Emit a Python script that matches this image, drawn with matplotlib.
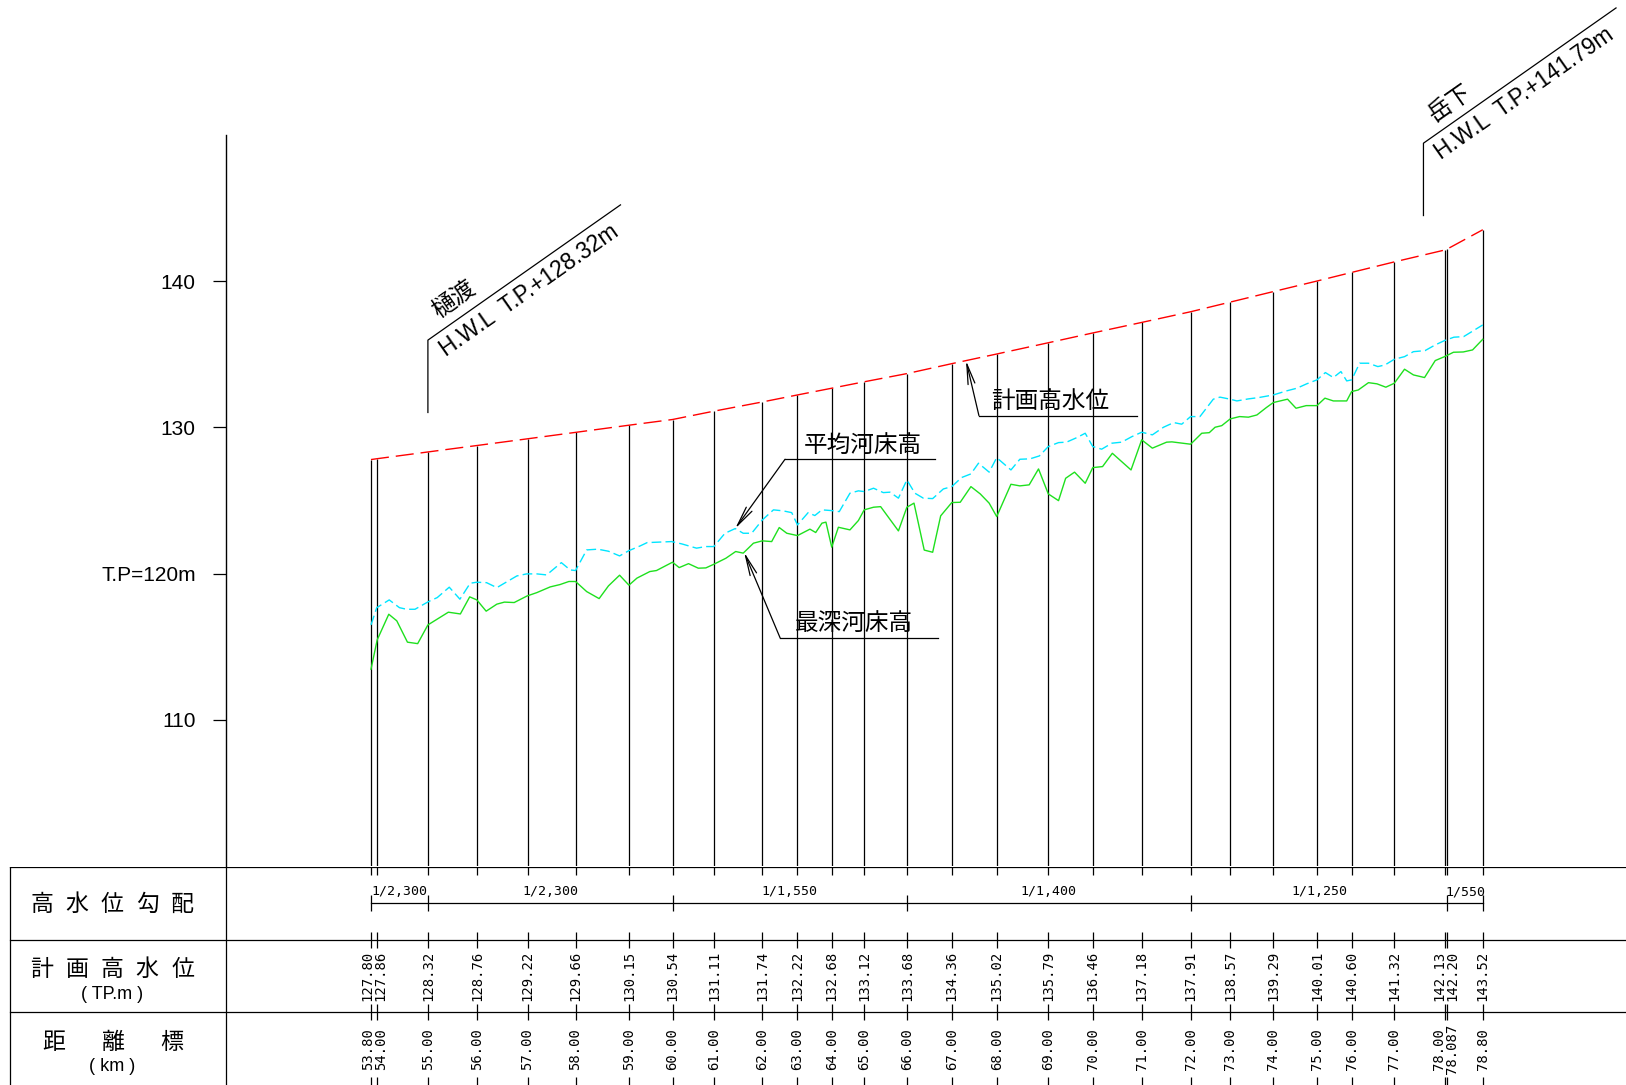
import numpy as np
import matplotlib.pyplot as plt

plt.rcParams['lines.scale_dashes'] = False

CJK = ['Noto Sans CJK JP', 'DejaVu Sans']
SANS = ['Liberation Sans', 'DejaVu Sans']
MONO = ['DejaVu Sans Mono']

# 距離標 (km)
km_labels = ["53.80", "54.00", "55.00", "56.00", "57.00", "58.00", "59.00", "60.00",
             "61.00", "62.00", "63.00", "64.00", "65.00", "66.00", "67.00", "68.00",
             "69.00", "70.00", "71.00", "72.00", "73.00", "74.00", "75.00", "76.00",
             "77.00", "78.00", "78.087", "78.80"]
# 図上の累加距離 (km)
dist = [53.80, 53.94, 55.08, 56.18, 57.32, 58.40, 59.60, 60.58,
        61.51, 62.60, 63.39, 64.16, 64.89, 65.85, 66.86, 67.87,
        69.03, 70.03, 71.13, 72.23, 73.12, 74.09, 75.07, 75.85,
        76.81, 77.94, 78.00, 78.80]
# 計画高水位 (T.P.m)
hwl = [127.80, 127.86, 128.32, 128.76, 129.22, 129.66, 130.15, 130.54,
       131.11, 131.74, 132.22, 132.68, 133.12, 133.68, 134.36, 135.02,
       135.79, 136.46, 137.18, 137.91, 138.57, 139.29, 140.01, 140.60,
       141.32, 142.13, 142.20, 143.52]

# 高水位勾配
grad_breaks = ["53.80", "55.00", "60.00", "66.00", "72.00", "78.087", "78.80"]
grad_labels = ["1/2,300", "1/2,300", "1/1,550", "1/1,400", "1/1,250", "1/550"]

# 最深河床高
deep_x = [53.80, 53.94, 54.20, 54.38, 54.62, 54.85, 55.08, 55.54, 55.81, 56.02,
          56.18, 56.39, 56.63, 56.80, 57.02, 57.31, 57.53, 57.83, 58.05, 58.25,
          58.40, 58.65, 58.93, 59.14, 59.39, 59.60, 59.78, 60.07, 60.22, 60.58,
          60.73, 60.94, 61.16, 61.33, 61.51, 61.78, 62.00, 62.17, 62.40, 62.60,
          62.81, 62.98, 63.15, 63.39, 63.67, 63.80, 63.94, 64.03, 64.16, 64.31,
          64.57, 64.76, 64.89, 65.10, 65.26, 65.66, 65.85, 66.01, 66.24, 66.43,
          66.61, 66.86, 67.05, 67.29, 67.50, 67.70, 67.87, 68.19, 68.39, 68.60,
          68.81, 69.03, 69.26, 69.42, 69.62, 69.86, 70.03, 70.25, 70.47, 70.89,
          71.13, 71.37, 71.69, 71.81, 72.23, 72.48, 72.65, 72.78, 72.93, 73.12,
          73.33, 73.53, 73.72, 73.93, 74.09, 74.41, 74.60, 74.83, 75.07, 75.25,
          75.44, 75.74, 75.85, 76.00, 76.23, 76.42, 76.62, 76.81, 77.04, 77.24,
          77.49, 77.73, 77.94, 78.14, 78.36, 78.57, 78.80]
deep_z = [113.46, 115.47, 117.22, 116.77, 115.31, 115.21, 116.49, 117.36, 117.24, 118.41,
          118.20, 117.43, 117.91, 118.05, 118.02, 118.47, 118.70, 119.09, 119.25, 119.46,
          119.46, 118.77, 118.29, 119.16, 119.89, 119.21, 119.69, 120.14, 120.21, 120.78,
          120.41, 120.68, 120.37, 120.39, 120.64, 121.05, 121.51, 121.40, 122.08, 122.24,
          122.19, 123.15, 122.76, 122.60, 123.04, 122.81, 123.45, 123.52, 121.81, 123.17,
          122.99, 123.63, 124.36, 124.54, 124.58, 122.92, 124.54, 124.82, 121.61, 121.46,
          123.95, 124.86, 124.88, 125.95, 125.45, 124.82, 123.90, 126.11, 126.00, 126.07,
          127.16, 125.45, 124.99, 126.52, 126.94, 126.18, 127.25, 127.32, 128.23, 127.09,
          129.15, 128.58, 128.99, 129.01, 128.85, 129.60, 129.64, 130.01, 130.12, 130.58,
          130.74, 130.70, 130.85, 131.35, 131.70, 131.93, 131.31, 131.49, 131.49, 132.00,
          131.81, 131.81, 132.45, 132.56, 133.06, 132.98, 132.75, 133.02, 133.98, 133.59,
          133.41, 134.57, 134.84, 135.14, 135.16, 135.30, 136.03]

# 平均河床高
mean_x = [53.80, 53.93, 54.21, 54.44, 54.60, 54.79, 55.09, 55.29, 55.56, 55.80,
          56.03, 56.18, 56.40, 56.63, 57.08, 57.30, 57.53, 57.75, 58.08, 58.28,
          58.40, 58.65, 58.90, 59.14, 59.39, 59.60, 59.85, 60.01, 60.56, 60.79,
          61.12, 61.33, 61.51, 61.76, 61.99, 62.17, 62.36, 62.60, 62.85, 63.07,
          63.26, 63.39, 63.63, 63.78, 63.94, 64.16, 64.33, 64.57, 64.76, 64.89,
          65.10, 65.32, 65.47, 65.66, 65.85, 66.03, 66.22, 66.43, 66.67, 66.86,
          67.08, 67.29, 67.46, 67.70, 67.87, 68.19, 68.39, 68.62, 68.83, 69.03,
          69.26, 69.44, 69.67, 69.86, 70.03, 70.23, 70.46, 70.68, 70.91, 71.13,
          71.37, 71.62, 71.85, 72.03, 72.23, 72.44, 72.74, 72.89, 73.12, 73.27,
          73.53, 73.76, 74.09, 74.39, 74.62, 74.84, 75.07, 75.26, 75.44, 75.61,
          75.74, 75.85, 76.03, 76.23, 76.44, 76.60, 76.81, 77.04, 77.24, 77.50,
          77.73, 77.94, 78.15, 78.37, 78.80]
mean_z = [116.49, 117.67, 118.20, 117.67, 117.56, 117.56, 118.08, 118.36, 119.07, 118.25,
          119.34, 119.41, 119.38, 119.04, 119.84, 119.98, 119.98, 119.91, 120.75, 120.25,
          120.21, 121.62, 121.67, 121.53, 121.21, 121.57, 121.89, 122.12, 122.19, 122.03,
          121.74, 121.85, 121.85, 122.76, 123.08, 122.76, 122.76, 123.67, 124.36, 124.29,
          124.17, 123.33, 124.17, 123.97, 124.36, 124.31, 124.24, 125.50, 125.66, 125.61,
          125.84, 125.54, 125.57, 125.16, 126.41, 125.50, 125.16, 125.13, 125.79, 125.95,
          126.57, 126.82, 127.55, 126.94, 127.93, 127.09, 127.82, 127.85, 128.05, 128.69,
          128.96, 128.99, 129.30, 129.60, 128.69, 128.51, 128.92, 128.99, 129.37, 129.67,
          129.49, 130.01, 130.33, 130.22, 130.74, 130.74, 131.93, 132.07, 131.93, 131.81,
          131.95, 132.04, 132.22, 132.50, 132.68, 132.98, 133.25, 133.75, 133.41, 133.82,
          133.18, 133.25, 134.39, 134.39, 134.16, 134.27, 134.66, 134.84, 135.18, 135.25,
          135.64, 135.94, 136.17, 136.21, 137.01]

# 地点名と H.W.L
sites = ["樋渡", "岳下"]
site_hwl = [128.32, 141.79]

# ---- 図の枠組み (px 単位で配置) ----
W, H = 1626, 1085
fig = plt.figure(figsize=(W / 100, H / 100), dpi=100)

X_LEFT, X_RIGHT = 50.54, 82.02
ax = fig.add_axes([226 / W, (H - 866) / H, 1 - 226 / W, 731 / H])
ax.set_xlim(X_LEFT, X_RIGHT)
ax.set_ylim(100, 150)
for s in ['top', 'right', 'bottom']:
    ax.spines[s].set_visible(False)
ax.spines['left'].set_linewidth(1.0)
ax.set_xticks([])
ax.set_yticks([110, 120, 130, 140])
ax.set_yticklabels(['110', 'T.P=120m', '130', '140'], family=SANS, fontsize=15)
ax.tick_params(axis='y', direction='out', length=9.7, width=0.9, pad=12)

# 距離標ごとの縦線
ax.vlines(dist, 100, hwl, colors='k', lw=0.9)

# 計画高水位・平均河床高・最深河床高
ax.plot(dist, hwl, color='#ff0000', lw=1.0, ls=(0, (13, 5)))
ax.plot(mean_x, mean_z, color='#00e5ff', lw=1.0, ls=(0, (7, 3)))
ax.plot(deep_x, deep_z, color='#1ee01e', lw=1.0)

# 引出線付きの凡例
notes = [
    ("平均河床高", mean_x, mean_z, 61.99, (63.11, 127.82), 66.48, (64.86, 128.75)),
    ("最深河床高", deep_x, deep_z, 62.19, (63.00, 115.60), 66.56, (64.65, 116.61)),
    ("計画高水位", dist, hwl, 67.18, (67.47, 130.81), 71.03, (69.08, 131.76)),
]
for text, sx, sz, tx, knee, x_end, txy in notes:
    tip = (tx, np.interp(tx, sx, sz))
    ax.plot([knee[0], x_end], [knee[1], knee[1]], color='k', lw=0.9)
    ax.annotate('', xy=tip, xytext=knee,
                arrowprops=dict(arrowstyle='->,head_length=1.45,head_width=0.25',
                                mutation_scale=10, color='k', lw=0.9,
                                shrinkA=0, shrinkB=0))
    ax.text(txy[0], txy[1], text, family=CJK, fontsize=17, ha='center', va='center')

# 地点の H.W.L 引出し
for name, h in zip(sites, site_hwl):
    x = np.interp(h, hwl, dist)
    y0 = h + 2.7
    y1 = y0 + 4.95
    x2, y2 = x + 4.33, y1 + 9.25
    ax.plot([x, x, x2], [y0, y1, y2], color='k', lw=0.9, clip_on=False)
    p0 = ax.transData.transform((x, y1))
    p1 = ax.transData.transform((x2, y2))
    ang = np.arctan2(p1[1] - p0[1], p1[0] - p0[0])
    u = np.array([np.cos(ang), np.sin(ang)])
    n = np.array([-np.sin(ang), np.cos(ang)])
    off_name = (45 * u + 17.5 * n) * 0.72
    off_hwl = (5 * u - 24 * n) * 0.72
    ax.annotate(name, (x, y1), xytext=off_name, textcoords='offset points',
                rotation=np.degrees(ang), rotation_mode='anchor',
                ha='center', va='center', family=CJK, fontsize=17,
                annotation_clip=False)
    ax.annotate(f"H.W.L  T.P.+{h:.2f}m", (x, y1), xytext=off_hwl,
                textcoords='offset points', rotation=np.degrees(ang),
                rotation_mode='anchor', ha='left', va='baseline',
                family=SANS, fontsize=16.5, annotation_clip=False)

# ---- 下段の表 ----
km_per_px = (X_RIGHT - X_LEFT) / (W - 226)
tab = fig.add_axes([0, 0, 1, 218 / H])
tab.set_xlim(X_LEFT - 226 * km_per_px, X_RIGHT)
tab.set_ylim(0, 3)
tab.axis('off')
frame = tab.get_yaxis_transform()
for y in (1, 2, 3):
    tab.plot([10.4 / W, 1], [y, y], color='k', lw=0.9, transform=frame)
for xf in (10.4 / W, 226 / W):
    tab.plot([xf, xf], [0, 3], color='k', lw=0.9, transform=frame)

# 見出し
head = [("高水位勾配", 2.49, 31, 193), ("計画高水位", 1.59, 31, 193), ("距離標", 0.59, 43.5, 182.5)]
for chars, y, left, right in head:
    cx = np.linspace(left + 10.5, right - 10.5, len(chars))
    for c, xp in zip(chars, cx):
        tab.text(xp / W, y, c, transform=frame, family=CJK, fontsize=16.5,
                 ha='center', va='center')
tab.text(112 / W, 1.245, "( TP.m )", transform=frame, family=SANS, fontsize=13,
         ha='center', va='center')
tab.text(112 / W, 0.25, "( km )", transform=frame, family=SANS, fontsize=13,
         ha='center', va='center')

# 距離標の目盛
tk = 0.11
tab.vlines(dist, 3 - tk, 3, colors='k', lw=0.9)
tab.vlines(dist, 2 - tk, 2 + tk, colors='k', lw=0.9)
tab.vlines(dist, 1 - tk, 1 + tk, colors='k', lw=0.9)
tab.vlines(dist, 0, tk, colors='k', lw=0.9)

# 近接する距離標の数値は左右にずらす
lab_x = np.array(dist, dtype=float)
gap = 13 * km_per_px
for i in range(len(lab_x) - 1):
    if dist[i + 1] - dist[i] < gap:
        mid = (dist[i] + dist[i + 1]) / 2
        lab_x[i], lab_x[i + 1] = mid - gap / 2, mid + gap / 2

for xl, v, k in zip(lab_x, hwl, km_labels):
    tab.text(xl, 1.5, f"{v:.2f}", rotation=90, family=MONO, fontsize=10,
             ha='center', va='center')
    tab.text(xl, 0.5, k, rotation=90, family=MONO, fontsize=10,
             ha='center', va='center')

# 勾配の寸法線
bx = [dist[km_labels.index(k)] for k in grad_breaks]
tab.plot([bx[0], bx[-1]], [2.5, 2.5], color='k', lw=0.9)
tab.vlines(bx, 2.5 - tk, 2.5 + tk, colors='k', lw=0.9)
for a, b, g in zip(bx[:-1], bx[1:], grad_labels):
    tab.text((a + b) / 2, 2.66, g, family=MONO, fontsize=9.5, ha='center', va='center')

fig.savefig('out.png', dpi=100)
